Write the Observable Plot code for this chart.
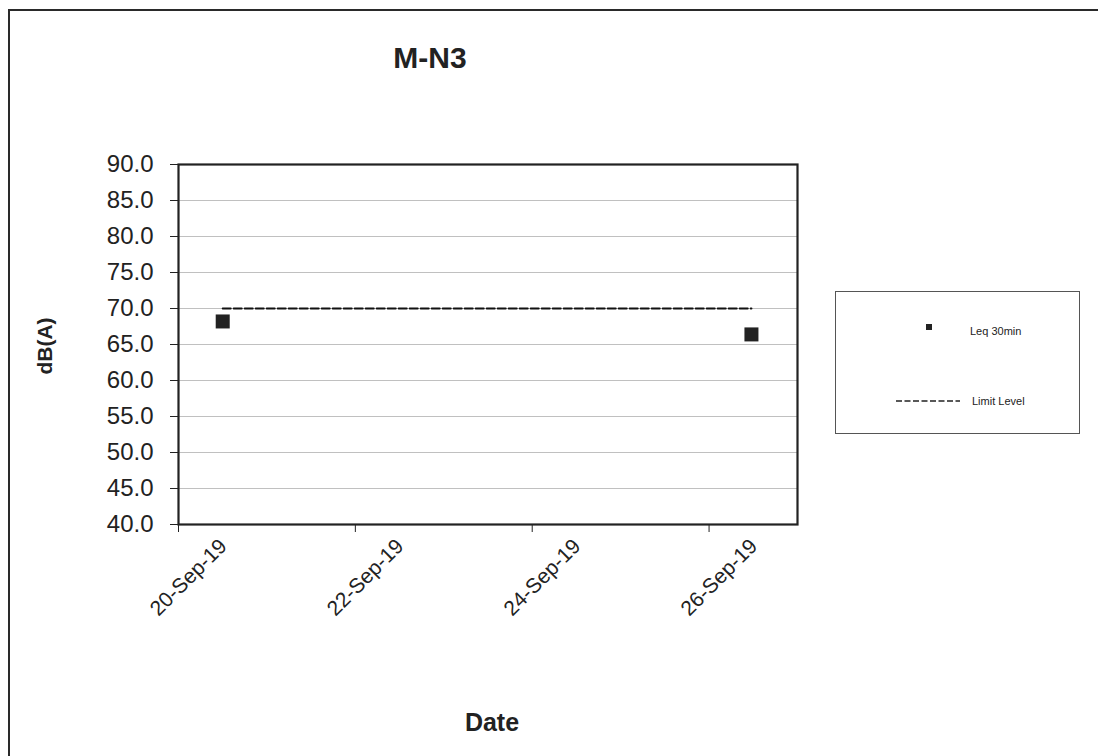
<!DOCTYPE html>
<html>
<head>
<meta charset="utf-8">
<script src="https://cdn.jsdelivr.net/npm/d3@7"></script>
<script src="https://cdn.jsdelivr.net/npm/@observablehq/plot@0.6"></script>
<style>
  html, body { margin: 0; padding: 0; background: #fff; overflow: hidden; }
  body { width: 1098px; height: 756px; position: relative; font-family: "Liberation Sans", Arial, sans-serif; color: #222; }
  #chart { position: absolute; left: 0; top: 0; }
  .abs { position: absolute; white-space: nowrap; }
  #outer { position: absolute; left: 8px; top: 9px; width: 1200px; height: 900px; border-top: 2.5px solid #2a2a2a; border-left: 2.5px solid #2a2a2a; }
  #title { left: 330px; width: 200px; text-align: center; top: 41px; font-size: 30px; font-weight: bold; }
  #ylab { left: 45px; top: 346px; font-size: 21px; font-weight: bold; transform: translate(-50%, -50%) rotate(-90deg); }
  #xlab { left: 492px; top: 722px; font-size: 25px; font-weight: bold; transform: translate(-50%, -50%); }
  #legend { left: 835px; top: 291px; width: 245px; height: 143px; border: 1px solid #555; background: #fff; box-sizing: border-box; }
  .leg-item { position: absolute; font-size: 11px; }
</style>
</head>
<body>
<div id="outer"></div>
<div id="chart"></div>
<div id="title" class="abs">M-N3</div>
<div id="ylab" class="abs">dB(A)</div>
<div id="xlab" class="abs">Date</div>
<div id="legend" class="abs">
  <svg width="245" height="143" style="position:absolute;left:0;top:0">
    <rect x="90" y="32" width="6" height="6" fill="#222"></rect>
    <line x1="60" y1="109" x2="124" y2="109" stroke="#222" stroke-width="1.6" stroke-dasharray="6,2.5"></line>
  </svg>
  <div class="leg-item" style="left:134px;top:33px;">Leq 30min</div>
  <div class="leg-item" style="left:136px;top:103px;">Limit Level</div>
</div>
<script>
// ---- data ----
const measureDates = ["2019-09-20T12:00:00Z", "2019-09-26T11:30:00Z"];
const leqValues = [68.2, 66.4];
const limitLevel = 70.0;
const limitDates = ["2019-09-20T12:00:00Z", "2019-09-26T11:30:00Z"];
const xDomain = ["2019-09-20T00:00:00Z", "2019-09-27T00:00:00Z"];
const xTickDates = ["2019-09-20T00:00:00Z", "2019-09-22T00:00:00Z", "2019-09-24T00:00:00Z", "2019-09-26T00:00:00Z"];
const xTickLabels = ["20-Sep-19", "22-Sep-19", "24-Sep-19", "26-Sep-19"];
const yTicks = [40, 45, 50, 55, 60, 65, 70, 75, 80, 85, 90];

// ---- build ----
const leqData = measureDates.map((d, i) => ({date: new Date(d), value: leqValues[i]}));
const limitData = limitDates.map(d => ({date: new Date(d), value: limitLevel}));
const xTicks = xTickDates.map(d => new Date(d));

const chart = Plot.plot({
  width: 1098,
  height: 756,
  marginLeft: 178,
  marginRight: 301,
  marginTop: 164,
  marginBottom: 232,
  style: {fontFamily: "'Liberation Sans', Arial, sans-serif", color: "#222", background: "transparent"},
  x: {type: "utc", domain: xDomain.map(d => new Date(d))},
  y: {domain: [40, 90]},
  marks: [
    Plot.gridY(yTicks, {stroke: "#c0c0c0", strokeOpacity: 1, strokeWidth: 1}),
    Plot.frame({stroke: "#222", strokeWidth: 2.2}),
    Plot.axisY(yTicks, {tickSize: 8, tickPadding: 17, tickFormat: d3.format(".1f"), fontSize: 24, label: null, stroke: "#222"}),
    Plot.axisX(xTicks, {tickSize: 8, tickFormat: () => "", label: null, stroke: "#222"}),
    Plot.text(xTicks, {x: d => d, text: (d, i) => xTickLabels[i], frameAnchor: "bottom", rotate: -45,
      textAnchor: "middle", lineAnchor: "middle", dx: 10, dy: 53, fontSize: 21, fill: "#222"}),
    Plot.lineY(limitData, {x: "date", y: "value", stroke: "#111", strokeWidth: 2, strokeDasharray: "8,3"}),
    Plot.dot(leqData, {x: "date", y: "value", symbol: "square", r: 7.9, fill: "#222", stroke: "none"})
  ]
});
document.getElementById("chart").appendChild(chart);
</script>
</body>
</html>
